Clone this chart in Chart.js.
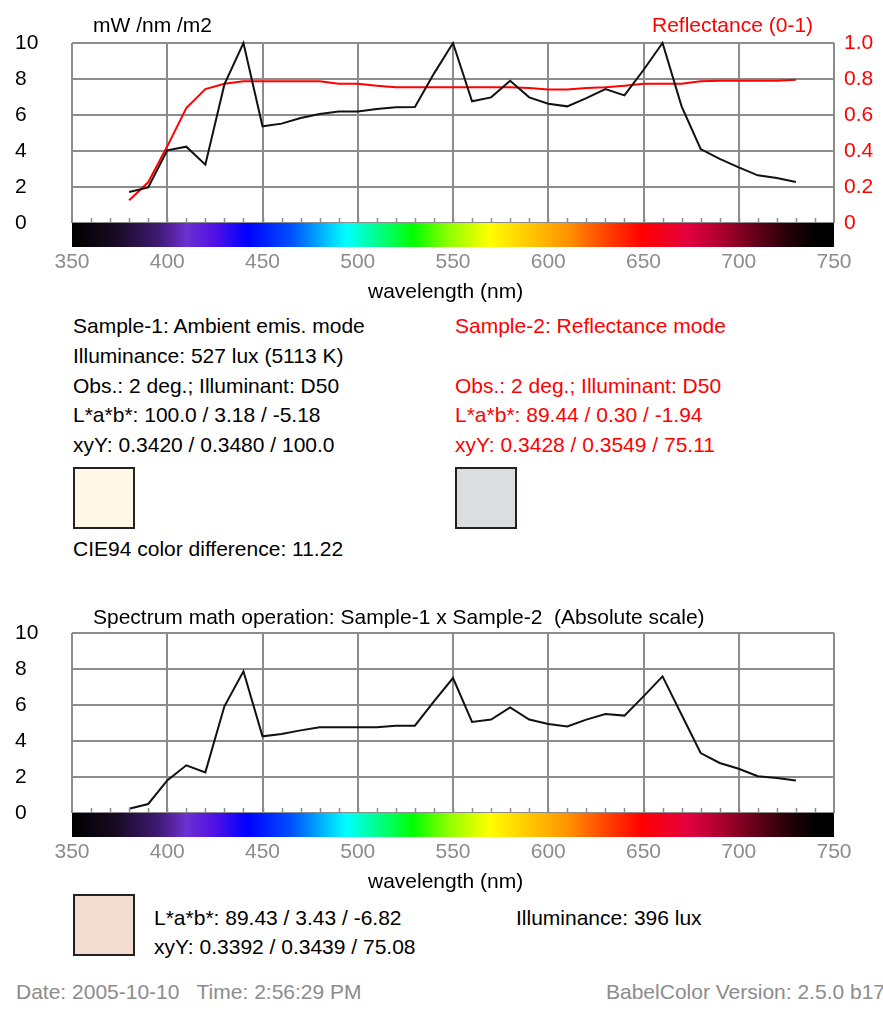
<!DOCTYPE html>
<html><head><meta charset="utf-8">
<script src="https://cdn.jsdelivr.net/npm/chart.js@4"></script>
<style>
body{margin:0;background:#fff;width:883px;height:1015px;position:relative;overflow:hidden;font-family:"Liberation Sans",Arial,sans-serif;font-size:21px;color:#000;}
.t{position:absolute;white-space:pre;line-height:21px;}
.r{color:#f00;}
.g{color:#8c8c8c;}
canvas{position:absolute;left:0;}
.sw{position:absolute;box-sizing:border-box;border:2px solid #222;width:62px;height:62px;}
</style></head><body>
<canvas id="c1" width="883" height="300" style="top:0;width:883px;height:300px"></canvas>
<canvas id="c2" width="883" height="300" style="top:590px;width:883px;height:300px"></canvas>

<div class="t" style="left:93px;top:14px">mW /nm /m2</div>
<div class="t r" style="left:652px;top:14px">Reflectance (0-1)</div>
<div class="t" style="left:368px;top:280px">wavelength (nm)</div>

<div class="t" style="left:73px;top:315px">Sample-1: Ambient emis. mode</div>
<div class="t" style="left:73px;top:345px">Illuminance: 527 lux (5113 K)</div>
<div class="t" style="left:73px;top:375px">Obs.: 2 deg.; Illuminant: D50</div>
<div class="t" style="left:73px;top:404px">L*a*b*: 100.0 / 3.18 / -5.18</div>
<div class="t" style="left:73px;top:434px">xyY: 0.3420 / 0.3480 / 100.0</div>
<div class="sw" style="left:73px;top:467px;background:#fff8e7"></div>
<div class="t" style="left:73px;top:538px">CIE94 color difference: 11.22</div>

<div class="t r" style="left:455px;top:315px">Sample-2: Reflectance mode</div>
<div class="t r" style="left:455px;top:375px">Obs.: 2 deg.; Illuminant: D50</div>
<div class="t r" style="left:455px;top:404px">L*a*b*: 89.44 / 0.30 / -1.94</div>
<div class="t r" style="left:455px;top:434px">xyY: 0.3428 / 0.3549 / 75.11</div>
<div class="sw" style="left:455px;top:467px;background:#dcdde1"></div>

<div class="t" style="left:93px;top:606px">Spectrum math operation: Sample-1 x Sample-2  (Absolute scale)</div>
<div class="t" style="left:368px;top:870px">wavelength (nm)</div>

<div class="sw" style="left:73px;top:894px;background:#f3dcd0"></div>
<div class="t" style="left:154px;top:907px">L*a*b*: 89.43 / 3.43 / -6.82</div>
<div class="t" style="left:154px;top:936px">xyY: 0.3392 / 0.3439 / 75.08</div>
<div class="t" style="left:516px;top:907px">Illuminance: 396 lux</div>

<div class="t g" style="left:16px;top:981px">Date: 2005-10-10   Time: 2:56:29 PM</div>
<div class="t g" style="left:606px;top:981px">BabelColor Version: 2.5.0 b17</div>

<script>
// ---- data ----
const wavelengths = [380,390,400,410,420,430,440,450,460,470,480,490,500,510,520,530,540,550,560,570,580,590,600,610,620,630,640,650,660,670,680,690,700,710,720,730];
const sample1 = [1.72,1.98,4.04,4.24,3.24,7.7,10.0,5.37,5.52,5.83,6.06,6.2,6.2,6.33,6.43,6.44,8.3,10.0,6.76,6.98,7.9,6.98,6.63,6.48,6.94,7.44,7.09,8.5,10.0,6.48,4.11,3.56,3.09,2.65,2.5,2.28];
const reflectance = [0.126,0.226,0.426,0.639,0.744,0.774,0.787,0.787,0.787,0.787,0.787,0.774,0.774,0.763,0.754,0.754,0.754,0.754,0.754,0.754,0.754,0.75,0.741,0.741,0.75,0.754,0.763,0.774,0.774,0.774,0.787,0.79,0.79,0.79,0.79,0.796];
const product = [0.24,0.5,1.81,2.65,2.26,5.93,7.87,4.26,4.39,4.59,4.76,4.76,4.76,4.76,4.85,4.85,6.2,7.5,5.06,5.19,5.87,5.19,4.94,4.81,5.19,5.5,5.41,6.48,7.59,5.46,3.33,2.78,2.46,2.04,1.94,1.81];
const xTicks = [350,400,450,500,550,600,650,700,750];
const yLeftTicks = [0,2,4,6,8,10];
const yRightTicks = [0,0.2,0.4,0.6,0.8,1.0];

// spectrum bar colour stops (wavelength, colour)
const spectrumStops = [[350,'#000000'],[372,'#160a20'],[395,'#3e1870'],[410,'#6e30d0'],[425,'#5010e4'],[442,'#0000ff'],[465,'#0050ff'],[494,'#00ffff'],[510,'#00ff90'],[529,'#00ff00'],[548,'#90ff00'],[569,'#ffff00'],[590,'#ffc800'],[611,'#ff9000'],[630,'#ff4400'],[649,'#ff0000'],[674,'#e00040'],[692,'#a8002c'],[710,'#600018'],[725,'#280008'],[740,'#000000'],[750,'#000000']];

const FONT = {family:'"Liberation Sans", Arial, sans-serif', size:21};
const GRID = '#8c8c8c';

const spectrumBar = {
  id:'spectrumBar',
  afterDraw(chart){
    const ctx = chart.ctx, xs = chart.scales.x, a = chart.chartArea;
    const x0 = xs.getPixelForValue(350), x1 = xs.getPixelForValue(750);
    const grad = ctx.createLinearGradient(x0,0,x1,0);
    spectrumStops.forEach(([w,c])=>grad.addColorStop((w-350)/400,c));
    ctx.save();
    ctx.fillStyle = grad;
    ctx.fillRect(x0, a.bottom, x1-x0, 24);
    ctx.strokeStyle = GRID; ctx.lineWidth = 1.5;
    for(let w=360; w<750; w+=10){
      const px = Math.round(xs.getPixelForValue(w))+0.5;
      ctx.beginPath(); ctx.moveTo(px, a.bottom-5); ctx.lineTo(px, a.bottom); ctx.stroke();
    }
    ctx.restore();
  }
};

function pts(vals){ return wavelengths.map((w,i)=>({x:w,y:vals[i]})); }

function makeChart(id, datasets, showRight){
  return new Chart(document.getElementById(id), {
    type:'line',
    data:{datasets},
    plugins:[spectrumBar],
    options:{
      responsive:false, animation:false,
      layout:{padding:{left:15,top:43,right:0,bottom:0}},
      plugins:{legend:{display:false}, tooltip:{enabled:false}},
      elements:{point:{radius:0}, line:{tension:0, borderWidth:2}},
      scales:{
        x:{type:'linear', min:350, max:750,
           afterFit(s){ s.height = 77; },
           afterBuildTicks(s){ s.ticks = xTicks.map(v=>({value:v})); },
           border:{display:false},
           grid:{color:GRID, lineWidth:2, drawTicks:false},
           ticks:{color:GRID, font:FONT, padding:27, maxRotation:0, autoSkip:false}},
        y:{type:'linear', position:'left', min:0, max:10,
           afterFit(s){ s.width = 57; },
           afterBuildTicks(s){ s.ticks = yLeftTicks.map(v=>({value:v})); },
           border:{display:false},
           grid:{color:GRID, lineWidth:2, drawTicks:false},
           ticks:{color:'#000', font:FONT, crossAlign:'far', padding:0}},
        y1:{type:'linear', position:'right', min:0, max:1,
           afterFit(s){ s.width = 49; },
           afterBuildTicks(s){ s.ticks = yRightTicks.map(v=>({value:v})); },
           border:{display:false},
           grid:{display:false, drawOnChartArea:false, drawTicks:false},
           ticks:{display:showRight, color:'#f00', font:FONT, padding:10,
                  callback:v=> v===0 ? '0' : v.toFixed(1)}}
      }
    }
  });
}

makeChart('c1', [
  {data:pts(sample1), borderColor:'#111', yAxisID:'y', clip:false},
  {data:pts(reflectance), borderColor:'#ff0000', yAxisID:'y1', clip:false}
], true);

makeChart('c2', [
  {data:pts(product), borderColor:'#111', yAxisID:'y', clip:false}
], false);
</script>
</body></html>
